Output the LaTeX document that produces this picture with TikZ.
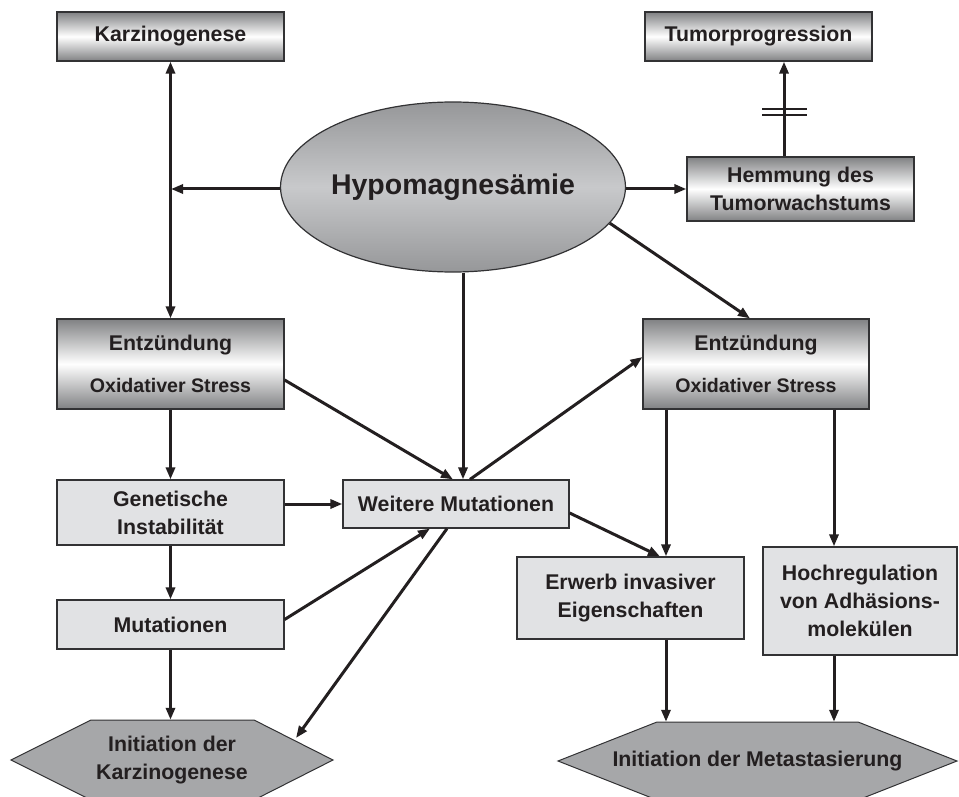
\documentclass[tikz,border=0pt]{standalone}
\usepackage{fontspec}
\setmainfont{Liberation Sans}
\usetikzlibrary{arrows.meta,shapes.geometric,calc}
\definecolor{ink}{RGB}{35,31,32}
\definecolor{shdark}{RGB}{128,129,131}
\definecolor{ellgray}{RGB}{150,151,153}
\definecolor{ellmid}{RGB}{200,201,203}
\definecolor{lightbox}{RGB}{225,226,228}
\definecolor{hexgray}{RGB}{166,167,169}
\definecolor{edgec}{RGB}{50,50,52}
\tikzset{
  base/.style={draw=edgec, line width=1.2pt, rectangle, inner sep=0pt, align=center, text=ink,
    font=\fontsize{21.3}{28}\selectfont\bfseries},
  shadebox/.style={base, top color=shdark, bottom color=shdark, middle color=white},
  flatbox/.style={base, fill=lightbox},
  hexlabel/.style={rectangle, inner sep=0pt, align=center, text=ink,
    font=\fontsize{21.3}{28}\selectfont\bfseries},
  hexshape/.style={fill=hexgray, draw=edgec, line width=1pt},
  arr/.style={line width=3pt, draw=ink, -{Triangle[length=12pt,width=9pt]}},
  darr/.style={line width=3pt, draw=ink, {Triangle[length=12pt,width=9pt]}-{Triangle[length=12pt,width=9pt]}},
  barline/.style={line width=1.5pt, draw=ink}
}
\begin{document}
\begin{tikzpicture}[x=1pt,y=-1pt]
\useasboundingbox (0,0) rectangle (959,797);
% hexagon shapes
\draw[hexshape] (11,760) -- (91,720) -- (254,720) -- (333,760) -- (254,800) -- (91,800) -- cycle;
\draw[hexshape] (558,761) -- (657,722) -- (858,722) -- (957,761) -- (858,800) -- (657,800) -- cycle;
% nodes
\node[shadebox, minimum width=227pt, minimum height=49pt] (karz) at (170.5,36.5) {Karzinogenese};
\node[shadebox, minimum width=227pt, minimum height=49pt] (tumorp) at (758.5,36.5) {Tumorprogression};
\node[ellipse, draw=edgec, line width=1.2pt, top color=ellgray, bottom color=ellgray, middle color=ellmid,
  minimum width=340pt, minimum height=170pt, inner sep=0pt, text=ink,
  font=\fontsize{28.5}{34}\selectfont\bfseries] (hypo) at (453,187) {Hypomagnesämie};
\node[shadebox, minimum width=227pt, minimum height=64pt] (hemm) at (800.5,189) {Hemmung des\\Tumorwachstums};
\node[shadebox, minimum width=227pt, minimum height=90pt] (entzL) at (170.5,364)
  {Entzündung\\[14pt]{\fontsize{19.6}{28}\selectfont Oxidativer Stress}};
\node[shadebox, minimum width=226pt, minimum height=90pt] (entzR) at (756,364)
  {Entzündung\\[14pt]{\fontsize{19.6}{28}\selectfont Oxidativer Stress}};
\node[flatbox, minimum width=226pt, minimum height=48pt] (weit) at (456,504) {Weitere Mutationen};
\node[flatbox, minimum width=227pt, minimum height=65pt] (gen) at (170.5,512.5) {Genetische\\Instabilität};
\node[flatbox, minimum width=227pt, minimum height=49pt] (mut) at (170.5,624.5) {Mutationen};
\node[flatbox, minimum width=227pt, minimum height=82pt] (erw) at (630.5,598) {Erwerb invasiver\\Eigenschaften};
\node[flatbox, minimum width=194pt, minimum height=108pt] (hoch) at (860,601) {Hochregulation\\von Adhäsions-\\molekülen};
\node[hexlabel, minimum width=322pt, minimum height=80pt] (hexK) at (172,760) {Initiation der\\Karzinogenese};
\node[hexlabel, minimum width=399pt, minimum height=78pt] (hexM) at (757.5,761) {Initiation der Metastasierung};
\coordinate (jL) at (171,189);
\coordinate (hkedge) at (296,738);
% connectors
\draw[arr] (hypo.west |- jL) -- (jL);
\draw[darr] (karz.south) -- (entzL.north);
\draw[arr] (hypo.east |- hemm.west) -- (hemm.west);
\draw[arr] ([xshift=-16.5pt]hemm.north) -- ([xshift=-16.5pt]hemm.north |- tumorp.south);
\draw[barline] (762,109) -- (807,109);
\draw[barline] (762,115) -- (807,115);
\draw[arr] (hypo.-13) -- ([xshift=-6pt]entzR.north);
\draw[arr] ([xshift=7pt]weit.north |- hypo.south) -- ([xshift=7pt]weit.north);
\draw[arr] ([yshift=-16pt]entzL.east) -- ([xshift=-3pt]weit.north);
\draw[arr] ([xshift=14pt]weit.north) -- ([yshift=7pt]entzR.west);
\draw[arr] (gen.east |- weit.west) -- (weit.west);
\draw[arr] ([yshift=5pt]mut.east) -- ([xshift=-26pt]weit.south);
\draw[arr] ([xshift=-9pt]weit.south) -- (hkedge);
\draw[arr] ([yshift=-9pt]weit.east) -- ([xshift=29.5pt]erw.north);
\draw[arr] ([xshift=-90pt]entzR.south) -- ([xshift=-90pt]entzR.south |- erw.north);
\draw[arr] ([xshift=78pt]entzR.south) -- ([xshift=78pt]entzR.south |- hoch.north);
\draw[arr] (entzL.south) -- (gen.north);
\draw[arr] (gen.south) -- (mut.north);
\draw[arr] (mut.south) -- (mut.south |- hexK.north);
\draw[arr] ([xshift=35.5pt]erw.south) -- ([xshift=35.5pt]erw.south |- hexM.north);
\draw[arr] ([xshift=-26pt]hoch.south) -- ([xshift=-26pt]hoch.south |- hexM.north);
\end{tikzpicture}
\end{document}
